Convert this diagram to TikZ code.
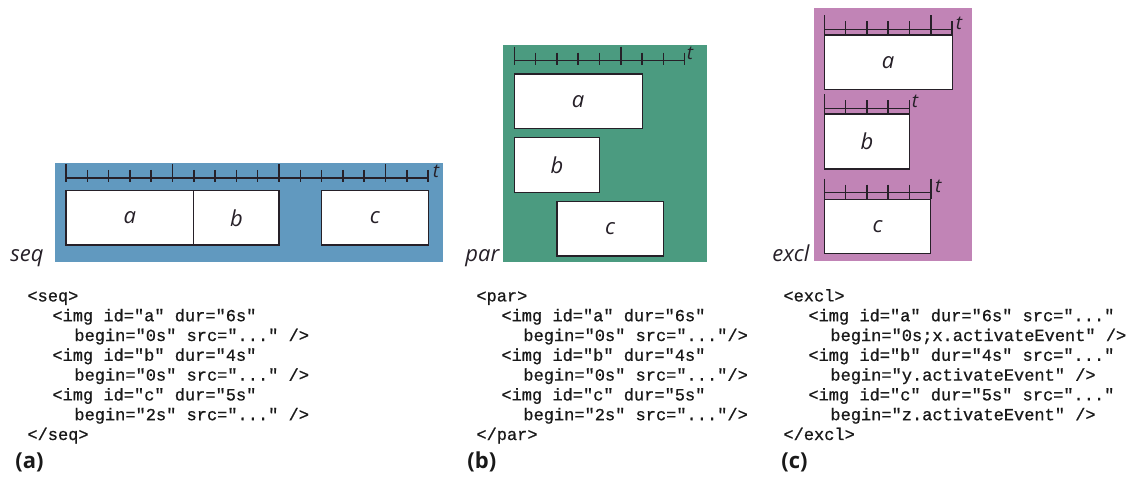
\documentclass[tikz,border=0pt]{standalone}
\usepackage{fontspec}
\setmainfont{Open Sans}
\newfontfamily\codefont[FakeBold=0.8]{Liberation Mono}

\definecolor{seqbg}{RGB}{97,153,191}
\definecolor{parbg}{RGB}{75,155,128}
\definecolor{exclbg}{RGB}{193,132,182}
\definecolor{ink}{RGB}{38,32,40}
\definecolor{codeink}{RGB}{25,25,25}

% time axis: start x, axis y, number of seconds, how far ticks reach below
\newcommand\tline[4]{%
  \draw[axisline] (#1,#2) -- ({#1+21.3*#3},#2);
  \foreach \i in {0,...,#3}{%
    \pgfmathsetmacro\tx{#1+21.3*\i}%
    \pgfmathtruncatemacro\m{mod(\i,5)}%
    \ifnum\m=0
      \draw[axisline] (\tx,{#2-14}) -- (\tx,{#2+#4});
    \else
      \draw[axisline] (\tx,{#2-8}) -- (\tx,{#2+#4});
    \fi
  }%
}
% media box with its centred label
\newcommand\medbox[6]{%
  \draw[blk] (#2,#3) rectangle (#4,#5);
  \node[lab] (#1) at ({(#2+#4)/2},{(#3+#5)/2}) {#6};
}

\begin{document}
\begin{tikzpicture}[x=0.5pt,y=-0.5pt,
  blk/.style={draw=ink, line width=0.6pt, fill=white},
  axisline/.style={draw=ink, line width=0.75pt},
  lab/.style={font=\fontsize{11}{13}\selectfont\itshape, text=ink, inner sep=0pt},
  tlab/.style={font=\fontsize{9.5}{11}\selectfont\itshape, text=ink, inner sep=0pt},
  tag/.style={font=\fontsize{11}{13}\selectfont\itshape, text=ink, inner sep=0pt, anchor=base west},
  code/.style={font=\codefont\fontsize{8.5}{9.9}\selectfont, align=left, inner sep=0pt, anchor=base west, text=codeink},
  figcap/.style={font=\fontsize{11}{13}\selectfont\bfseries, inner sep=0pt, anchor=base west, text=codeink}]
\useasboundingbox (0,0) rectangle (1144,486);

% ---- seq ----
\fill[seqbg] (55,163) rectangle (443,262);
\tline{66}{178}{17}{4}
\node[tlab] (tseq) at (436,171) {t};
\medbox{seqa}{66}{190.7}{193.8}{245}{a}
\medbox{seqb}{193.8}{190.7}{279}{245}{b}
\medbox{seqc}{321.6}{190.7}{428.1}{245}{c}
\node[tag] (seqname) at (10,261) {seq};

% ---- par ----
\fill[parbg] (502.7,45) rectangle (706.7,261.7);
\tline{514.3}{60.7}{8}{4}
\node[tlab] (tpar) at (690,53) {t};
\medbox{para}{514.3}{74}{642.1}{128.3}{a}
\medbox{parb}{514.3}{137.3}{599.5}{192.3}{b}
\medbox{parc}{556.9}{201.7}{663.4}{256}{c}
\node[tag] (parname) at (465,261) {par};

% ---- excl ----
\fill[exclbg] (814.3,8.3) rectangle (971.7,261);
\tline{824.3}{29.3}{6}{5.7}
\node[tlab] (texa) at (959,23) {t};
\medbox{exa}{824.3}{35}{952.1}{89.3}{a}
\tline{824.3}{108.3}{4}{5.7}
\node[tlab] (texb) at (915,101.7) {t};
\medbox{exb}{824.3}{114}{909.5}{169}{b}
\tline{824.3}{192.7}{5}{6.6}
\node[tlab] (texc) at (938.3,186) {t};
\medbox{exc}{824.3}{199.3}{930.8}{253.3}{c}
\node[tag] (exname) at (772,261) {excl};

% ---- markup (anchored at the baseline of the last line) ----
\node[code] (seqcode) at (27,440) {<seq>\\
\hspace*{12.5pt}<img id="a" dur="6s"\\
\hspace*{23.5pt}begin="0s" src="..." />\\
\hspace*{12.5pt}<img id="b" dur="4s"\\
\hspace*{23.5pt}begin="0s" src="..." />\\
\hspace*{12.5pt}<img id="c" dur="5s"\\
\hspace*{23.5pt}begin="2s" src="..." />\\
</seq>};
\node[code] (parcode) at (476,440) {<par>\\
\hspace*{12.5pt}<img id="a" dur="6s"\\
\hspace*{23.5pt}begin="0s" src="..."/>\\
\hspace*{12.5pt}<img id="b" dur="4s"\\
\hspace*{23.5pt}begin="0s" src="..."/>\\
\hspace*{12.5pt}<img id="c" dur="5s"\\
\hspace*{23.5pt}begin="2s" src="..."/>\\
</par>};
\node[code] (exclcode) at (783,440) {<excl>\\
\hspace*{12.5pt}<img id="a" dur="6s" src="..."\\
\hspace*{23.5pt}begin="0s;x.activateEvent" />\\
\hspace*{12.5pt}<img id="b" dur="4s" src="..."\\
\hspace*{23.5pt}begin="y.activateEvent" />\\
\hspace*{12.5pt}<img id="c" dur="5s" src="..."\\
\hspace*{23.5pt}begin="z.activateEvent" />\\
</excl>};

\node[figcap] (capa) at (15,468) {(a)};
\node[figcap] (capb) at (467,468) {(b)};
\node[figcap] (capc) at (781,468) {(c)};
\end{tikzpicture}
\end{document}
